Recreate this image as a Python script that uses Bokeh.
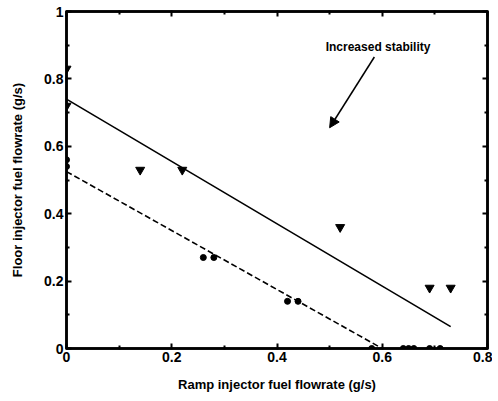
from bokeh.plotting import figure
from bokeh.models import (FixedTicker, LinearAxis, Range1d, Arrow, NormalHead,
                          Label)
from bokeh.embed import file_html
from bokeh.resources import INLINE

# data
tri_x = [0.0, 0.0, 0.14, 0.22, 0.52, 0.69, 0.73]
tri_y = [0.83, 0.72, 0.53, 0.53, 0.36, 0.18, 0.18]
dot_x = [0.0, 0.0, 0.26, 0.28, 0.42, 0.44, 0.58, 0.64, 0.65, 0.66, 0.69, 0.71]
dot_y = [0.56, 0.54, 0.27, 0.27, 0.14, 0.14, 0.0, 0.0, 0.0, 0.0, 0.0, 0.0]
solid_x = [0.0, 0.73]
solid_y = [0.74, 0.065]
dash_x = [0.0, 0.60]
dash_y = [0.525, 0.0]
x_ticks = [0, 0.2, 0.4, 0.6, 0.8]
x_tick_labels = {0: "0", 0.2: "0.2", 0.4: "0.4", 0.6: "0.6", 0.8: "0.8"}
y_ticks = [0, 0.2, 0.4, 0.6, 0.8, 1.0]
y_tick_labels = {0: "0", 0.2: "0.2", 0.4: "0.4", 0.6: "0.6", 0.8: "0.8", 1.0: "1"}
minor_x = [0.1, 0.3, 0.5, 0.7]
minor_y = [0.1, 0.3, 0.5, 0.7, 0.9]
note_text = "Increased stability"
note_xy = (0.592, 0.895)
arrow_start = (0.585, 0.865)
arrow_end = (0.50, 0.655)

FONT = "Liberation Sans"

p = figure(width=492, height=394, output_backend="svg", toolbar_location=None,
           x_range=Range1d(0, 0.8), y_range=Range1d(0, 1),
           min_border_left=66, min_border_right=5, min_border_top=11,
           min_border_bottom=46, x_axis_label="Ramp injector fuel flowrate (g/s)",
           y_axis_label="Floor injector fuel flowrate (g/s)")
p.grid.visible = False
p.outline_line_color = "black"
p.outline_line_width = 2.5

def style(ax):
    ax.major_tick_in = 5
    ax.major_tick_out = 1
    ax.minor_tick_in = 3
    ax.minor_tick_out = 1
    ax.axis_line_width = 2.5
    ax.axis_line_color = "black"
    ax.major_tick_line_width = 2
    ax.minor_tick_line_width = 2
    ax.major_tick_line_color = "black"
    ax.minor_tick_line_color = "black"

for ax, ticks, labels, minor in ((p.xaxis[0], x_ticks, x_tick_labels, minor_x),
                                 (p.yaxis[0], y_ticks, y_tick_labels, minor_y)):
    ax.ticker = FixedTicker(ticks=ticks, minor_ticks=minor)
    ax.major_label_overrides = labels
    style(ax)
    ax.major_label_text_font = FONT
    ax.major_label_text_font_style = "bold"
    ax.major_label_text_font_size = "14px"
    ax.major_label_text_color = "black"
    ax.axis_label_text_font = FONT
    ax.axis_label_text_font_style = "bold"
    ax.axis_label_text_font_size = "13px"
    ax.axis_label_text_color = "black"
    ax.major_label_standoff = 2

p.xaxis[0].axis_label_standoff = 12
p.yaxis[0].axis_label_standoff = 16

for side, ticks, minor in (("right", y_ticks, minor_y), ("above", x_ticks, minor_x)):
    ax = LinearAxis(ticker=FixedTicker(ticks=ticks, minor_ticks=minor),
                    major_label_overrides={t: "" for t in ticks},
                    major_label_standoff=0)
    style(ax)
    p.add_layout(ax, side)

p.line(solid_x, solid_y, line_color="black", line_width=1.6)
p.line(dash_x, dash_y, line_color="black", line_width=1.6, line_dash="6 3")
p.scatter(tri_x, tri_y, marker="inverted_triangle", size=9, color="black")
p.scatter(dot_x, dot_y, marker="circle", size=6, color="black")

p.add_layout(Arrow(end=NormalHead(size=10, fill_color="black", line_color="black"),
                   x_start=arrow_start[0], y_start=arrow_start[1],
                   x_end=arrow_end[0], y_end=arrow_end[1],
                   line_color="black", line_width=1.5))
p.add_layout(Label(x=note_xy[0], y=note_xy[1], text=note_text,
                   text_font=FONT, text_font_style="bold", text_font_size="12px",
                   text_align="center", text_baseline="middle", text_color="black"))

open("out.html", "w").write(file_html(p, INLINE))
